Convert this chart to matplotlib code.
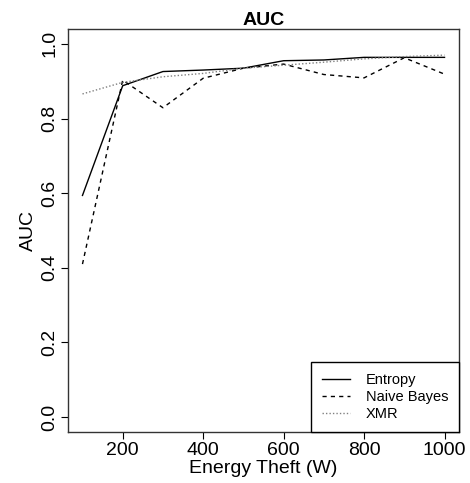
import matplotlib
matplotlib.use("Agg")
import matplotlib.pyplot as plt
import numpy as np

plt.rcParams['font.family'] = ['Liberation Sans', 'DejaVu Sans']

theft = [100, 200, 300, 400, 500, 600, 700, 800, 900, 1000]
entropy = [0.594, 0.888, 0.926, 0.930, 0.935, 0.955, 0.957, 0.964, 0.964, 0.964]
naive_bayes = [0.410, 0.903, 0.829, 0.908, 0.935, 0.946, 0.918, 0.909, 0.963, 0.919]
xmr = [0.866, 0.897, 0.912, 0.921, 0.935, 0.943, 0.951, 0.960, 0.966, 0.970]

xticks = [200, 400, 600, 800, 1000]
yticks = [0.0, 0.2, 0.4, 0.6, 0.8, 1.0]

fig = plt.figure(figsize=(4.70, 4.83), dpi=100)
ax = fig.add_axes([68 / 470, 51 / 483, 391 / 470, 403 / 483])

ax.plot(theft, entropy, color='black', lw=1.0, ls='-', label='Entropy')
ax.plot(theft, naive_bayes, color='black', lw=1.0, ls=(0, (3, 3)), label='Naive Bayes')
ax.plot(theft, xmr, color='#808080', lw=1.0, ls=(0, (1, 1.5)), label='XMR')

ax.set_xlim(64, 1036)
ax.set_ylim(-0.04, 1.04)
ax.set_xticks(xticks)
ax.set_xticklabels([str(t) for t in xticks])
ax.set_yticks(yticks)
ax.set_yticklabels(['%.1f' % t for t in yticks], rotation=90, va='center')
ax.tick_params(direction='out', length=5, width=0.8, labelsize=14, pad=2)
for s in ax.spines.values():
    s.set_linewidth(1.0)
    s.set_color('#333333')

ax.set_title('AUC', fontsize=14, fontweight='bold', pad=3)
ax.set_xlabel('Energy Theft (W)', fontsize=14, labelpad=1)
ax.set_ylabel('AUC', fontsize=14, labelpad=3)

leg = ax.legend(loc='lower right', borderaxespad=0, fancybox=False,
                edgecolor='black', framealpha=1, fontsize=10.5,
                handlelength=1.9, handletextpad=1.1, labelspacing=0.2,
                borderpad=0.75)
leg.get_frame().set_linewidth(1.0)

fig.savefig('out.png', dpi=100)
